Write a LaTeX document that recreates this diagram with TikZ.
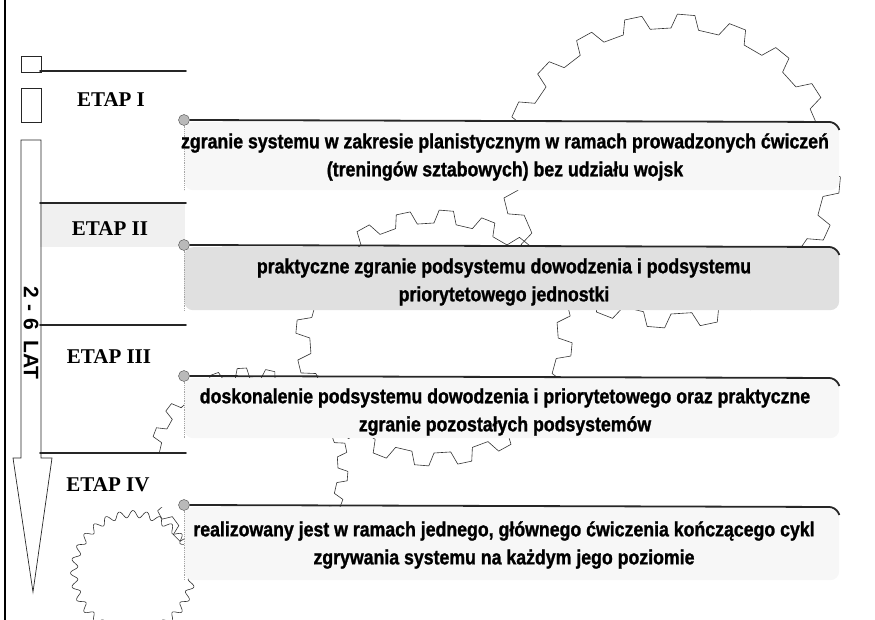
\documentclass[tikz,border=0pt]{standalone}
\usepackage{fontspec}
\setmainfont{Liberation Serif}
\setsansfont{Liberation Sans}
\newfontfamily\waski{Liberation Sans}[FakeStretch=0.86, BoldFeatures={FakeBold=1.2}]

\tikzset{
  kolo/.style={draw=black!80, line width=0.6pt, line join=round},
  pasek/.style={draw=none, fill=white},
  etapline/.style={line width=1.7pt, black!85, line cap=round},
  ramka/.style={draw=none, rounded corners=9pt, anchor=north west, minimum width=655pt},
  kreska/.style={line width=1.8pt, black!85, rounded corners=6pt},
  brzeg/.style={densely dotted, gray!70, line width=0.8pt},
  guzik/.style={circle, draw=black!70, fill=gray!55, inner sep=0pt, minimum size=11pt},
  strzalka/.style={draw=black!85, line width=0.7pt},
  etap/.style={font=\bfseries\fontsize{21}{24}\selectfont},
  opis/.style={align=center, font=\waski\bfseries\fontsize{20.6}{28}\selectfont},
}

% kolo zebate: srodek x, srodek y, promien zebow, promien wrebow, liczba zebow, rozciagniecie
\newcommand{\zebatka}[6]{%
  \draw[kolo, shift={(#1,#2)}, xscale=#6]
    (0:#4) \foreach \k in {1,...,#5}{
      -- ({(\k-1)*360/#5+0.12*360/#5}:#3)
      -- ({(\k-1)*360/#5+0.45*360/#5}:#3)
      -- ({(\k-1)*360/#5+0.57*360/#5}:#4)
      -- ({\k*360/#5}:#4)
    } -- cycle;}

\begin{document}
\begin{tikzpicture}[x=1pt, y=-1pt]
  \useasboundingbox (0,0) rectangle (875,620);

  % kola zebate w tle
  \zebatka{671}{171}{157}{143}{20}{1.08}
  \zebatka{434}{338}{128}{115}{20}{1.08}
  \zebatka{248}{468}{100}{90}{22}{1}
  \draw[kolo, shift={(133,573)}] plot[domain=0:360, samples=400, smooth, variable=\t]
    ({(59+3.5*cos(28*\t))*cos(\t)}, {(59+3.5*cos(28*\t))*sin(\t)}) -- cycle;

  % pasy etapow
  \fill[pasek] (40,71) rectangle (185,122);
  \fill[pasek, fill=gray!12] (40,203) rectangle (185,247);
  \fill[pasek] (40,325) rectangle (185,378);
  \fill[pasek] (40,453) rectangle (185,507);

  % ramki z opisami
  \node[ramka, fill=gray!6, minimum height=68pt] (ramka1) at (184,122) {};
  \node[ramka, fill=gray!24, minimum height=63pt] (ramka2) at (184,247) {};
  \node[ramka, fill=gray!6, minimum height=60pt] (ramka3) at (184,378) {};
  \node[ramka, fill=gray!6, minimum height=73pt] (ramka4) at (184,507) {};

  \foreach \i in {1,...,4}{
    \draw[brzeg] (ramka\i.north west) -- (ramka\i.south west);
    \node[guzik] (guzik\i) at ([yshift=2pt]ramka\i.north west) {};
    \draw[kreska] (guzik\i.east) -- ([xshift=-4pt]ramka\i.north east) -- ++(4,8);
  }

  % linie etapow
  \draw[etapline] (40,71) -- (186,71);
  \draw[etapline] (40,203) -- (186,203);
  \draw[etapline] (40,325) -- (186,325);
  \draw[etapline] (40,453) -- (186,453);

  % strzalka czasu
  \draw[strzalka] (21,56) rectangle (41,72);
  \draw[strzalka] (21,88) rectangle (41,122);
  \draw[strzalka] (21,140) -- (21,458) -- (13,458) -- (33,592) -- (52,458) -- (41,458) -- (41,140) -- cycle;
  \node[rotate=-90, font=\sffamily\bfseries\fontsize{21}{24}\selectfont] (lata) at (31,333)
    {2\hspace{7pt}-\hspace{7pt}6\hspace{10pt}LAT};

  % nazwy etapow
  \node[etap] (etap1) at (111,100) {ETAP I};
  \node[etap] (etap2) at (110,229) {ETAP II};
  \node[etap] (etap3) at (109,357) {ETAP III};
  \node[etap] (etap4) at (108,485) {ETAP IV};

  % opisy etapow
  \node[opis] (opis1) at (505,157) {zgranie systemu w zakresie planistycznym w ramach prowadzonych ćwiczeń\\(treningów sztabowych) bez udziału wojsk};
  \node[opis] (opis2) at (504,282) {praktyczne zgranie podsystemu dowodzenia i podsystemu\\priorytetowego jednostki};
  \node[opis] (opis3) at (505,412) {doskonalenie podsystemu dowodzenia i priorytetowego oraz praktyczne\\zgranie pozostałych podsystemów};
  \node[opis] (opis4) at (504,545) {realizowany jest w ramach jednego, głównego ćwiczenia kończącego cykl\\zgrywania systemu na każdym jego poziomie};

  % ramka strony
  \draw[line width=1.3pt] (5,0) -- (5,620);
\end{tikzpicture}
\end{document}
